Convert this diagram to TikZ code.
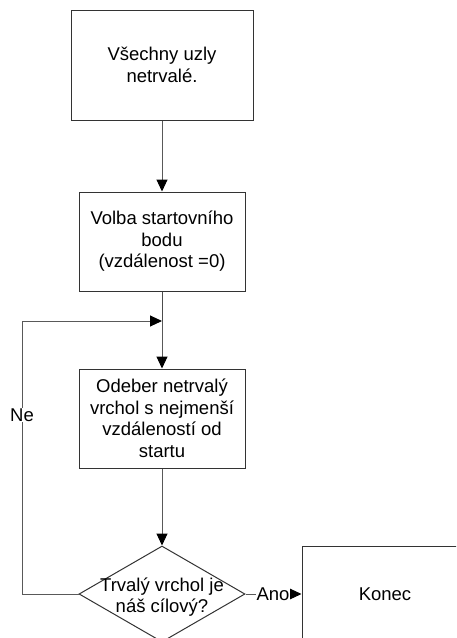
\documentclass[tikz,border=0pt]{standalone}
\usepackage{fontspec}
\setmainfont{Liberation Sans}
\usetikzlibrary{shapes.geometric,arrows.meta}
\begin{document}
\begin{tikzpicture}[x=1pt,y=-1pt,
  every node/.style={font=\fontsize{18.5}{21.5}\selectfont, align=center},
  procbox/.style={draw=black!80, line width=1pt, rectangle, inner sep=0pt},
  decision/.style={draw=black!80, line width=1pt, diamond, inner sep=0pt,
    minimum width=166pt, minimum height=96pt},
  flow/.style={draw=black!65, line width=1pt, -{Triangle[length=12pt,width=11pt,black]}},
  flowline/.style={draw=black!70, line width=1pt},
  edgelabel/.style={fill=white, inner sep=1pt}]
  \useasboundingbox (0,0) rectangle (456,638);
  \clip (0,0) rectangle (456,638);

  % process steps
  \node[procbox, minimum width=182pt, minimum height=110pt] (init) at (162,65)
    {Všechny uzly\\netrvalé.};
  \node[procbox, minimum width=166pt, minimum height=99pt] (start) at (162,241.5)
    {Volba startovního\\bodu\\(vzdálenost =0)};
  \node[procbox, minimum width=166pt, minimum height=99pt] (pick) at (162,418.5)
    {Odeber netrvalý\\vrchol s nejmenší\\vzdáleností od\\startu};

  % decision
  \node[decision] (test) at (162,594) {};
  \node (testtext) at (162,597) {Trvalý vrchol je\\náš cílový?};

  % end
  \node[procbox, minimum width=166pt, minimum height=96pt] (konec) at (385,594) {Konec};

  % joins
  \coordinate (merge) at (162,321);
  \coordinate (loopbot) at (22,594);
  \coordinate (looptop) at (22,321);

  \draw[flow] (init) -- (start);
  \draw[flowline] (start) -- (merge);
  \draw[flow] (merge) -- (pick);
  \draw[flow] (pick) -- (test);

  % "no" branch back into the loop
  \draw[flow] (test.west) -- (loopbot) -- (looptop) -- (merge);
  \node[edgelabel] (ne) at (22,415) {Ne};

  % "yes" branch to the end
  \draw[flow] (test.east) -- (konec.west);
  \node[edgelabel, inner sep=0.5pt] (ano) at (273,594) {Ano};
\end{tikzpicture}
\end{document}
